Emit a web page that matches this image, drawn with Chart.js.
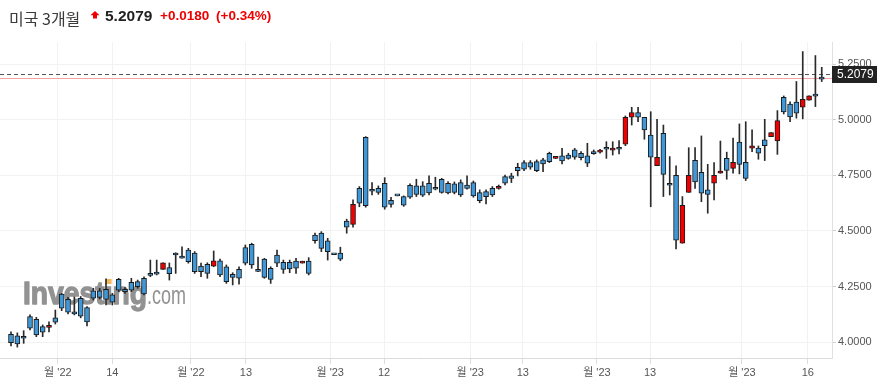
<!DOCTYPE html>
<html><head><meta charset="utf-8">
<script src="https://cdn.jsdelivr.net/npm/chart.js@4"></script>
<style>
html,body{margin:0;padding:0;background:#fff;}
#wrap{position:relative;width:883px;height:389px;overflow:hidden;background:#fff;}
canvas{position:absolute;left:0;top:0;}
.h{position:absolute;white-space:nowrap;line-height:1;}
</style></head><body>
<div id="wrap">
<canvas id="c" width="883" height="389"></canvas>
<span class="h" id="name" style="left:9px;top:5.5px;font:16px 'Noto Sans CJK KR';color:#3a3a3a"></span>
<svg style="position:absolute;left:90px;top:11px" width="10" height="8" viewBox="0 0 10 8"><polygon points="5,0 9.5,4.2 0.5,4.2" fill="#e00"/><rect x="3" y="4" width="4" height="3.5" fill="#e00"/></svg>
<span class="h" id="price" style="left:105px;top:7px;font:bold 15.5px 'Liberation Sans';color:#222"></span>
<span class="h" id="chg" style="left:160px;top:8px;font:bold 13.5px 'Liberation Sans';color:#e00"></span>
<span class="h" id="pct" style="left:216px;top:8px;font:bold 13.5px 'Liberation Sans';color:#e00"></span>
</div>
<script>
const instrument = '미국 3개월';
const lastPrice = 5.2079;
const change = 0.0180;
const changePct = 0.34;
const prevClose = 5.1899;

const opens  = [3.997,3.991,4.017,4.062,4.032,4.044,4.075,4.089,4.152,4.134,4.126,4.116,4.091,4.197,4.201,4.192,4.179,4.234,4.227,4.234,4.249,4.216,4.300,4.305,4.357,4.308,4.392,4.377,4.362,4.317,4.317,4.309,4.366,4.302,4.272,4.291,4.287,4.355,4.347,4.318,4.291,4.282,4.355,4.327,4.329,4.332,4.364,4.309,4.456,4.422,4.407,4.393,4.373,4.517,4.620,4.625,4.614,4.679,4.674,4.607,4.620,4.658,4.616,4.652,4.665,4.661,4.671,4.688,4.674,4.671,4.674,4.662,4.692,4.658,4.636,4.655,4.662,4.700,4.715,4.737,4.772,4.778,4.787,4.772,4.802,4.812,4.835,4.815,4.827,4.832,4.830,4.805,4.848,4.862,4.868,4.873,4.868,5.012,5.033,5.012,4.955,4.832,4.832,4.755,4.706,4.459,4.616,4.751,4.721,4.670,4.665,4.751,4.770,4.773,4.809,4.800,4.737,4.883,4.850,4.884,4.943,4.997,5.036,5.014,5.030,5.093,5.109,5.107,5.184];
const highs  = [4.046,4.041,4.051,4.122,4.111,4.077,4.091,4.144,4.219,4.201,4.203,4.205,4.159,4.242,4.242,4.284,4.219,4.287,4.245,4.287,4.279,4.294,4.369,4.369,4.357,4.356,4.402,4.429,4.422,4.407,4.355,4.357,4.410,4.373,4.347,4.312,4.339,4.437,4.445,4.383,4.377,4.339,4.414,4.369,4.369,4.377,4.364,4.380,4.490,4.497,4.467,4.393,4.427,4.553,4.640,4.700,4.925,4.718,4.703,4.740,4.652,4.658,4.658,4.712,4.733,4.722,4.748,4.742,4.737,4.722,4.721,4.730,4.748,4.725,4.685,4.685,4.700,4.707,4.752,4.760,4.805,4.817,4.817,4.820,4.827,4.855,4.836,4.872,4.850,4.872,4.857,4.895,4.865,4.868,4.902,4.902,4.907,5.018,5.057,5.057,5.012,5.037,5.003,4.977,4.835,4.793,4.655,4.875,4.875,4.928,4.800,4.808,4.905,4.855,4.918,4.982,4.992,4.955,4.883,5.003,4.943,5.042,5.108,5.082,5.173,5.308,5.109,5.290,5.237];
const lows   = [3.982,3.977,3.994,4.054,4.024,4.024,4.046,4.081,4.141,4.126,4.122,4.109,4.073,4.189,4.194,4.167,4.167,4.227,4.219,4.227,4.242,4.212,4.294,4.302,4.327,4.279,4.309,4.377,4.355,4.309,4.294,4.287,4.339,4.294,4.264,4.257,4.261,4.347,4.332,4.317,4.287,4.264,4.339,4.309,4.312,4.309,4.355,4.302,4.445,4.407,4.369,4.393,4.366,4.490,4.517,4.609,4.607,4.662,4.665,4.598,4.607,4.658,4.611,4.647,4.655,4.655,4.662,4.685,4.670,4.667,4.667,4.655,4.688,4.652,4.627,4.622,4.655,4.688,4.707,4.718,4.748,4.772,4.778,4.767,4.767,4.808,4.826,4.802,4.823,4.823,4.820,4.790,4.845,4.850,4.827,4.842,4.847,4.884,4.977,4.992,4.913,4.609,4.794,4.655,4.662,4.419,4.445,4.674,4.692,4.632,4.580,4.640,4.760,4.733,4.760,4.757,4.727,4.857,4.823,4.817,4.925,4.845,5.027,4.992,5.008,5.005,5.089,5.060,5.173];
const closes = [4.035,4.028,4.026,4.114,4.102,4.069,4.066,4.109,4.216,4.192,4.136,4.197,4.155,4.231,4.231,4.237,4.212,4.282,4.237,4.269,4.272,4.287,4.309,4.315,4.327,4.335,4.400,4.387,4.414,4.400,4.342,4.350,4.342,4.366,4.339,4.305,4.327,4.425,4.440,4.327,4.373,4.332,4.392,4.359,4.359,4.364,4.355,4.364,4.482,4.490,4.456,4.393,4.400,4.545,4.530,4.692,4.922,4.688,4.692,4.715,4.638,4.658,4.655,4.706,4.703,4.703,4.715,4.697,4.733,4.715,4.712,4.718,4.707,4.718,4.673,4.677,4.692,4.692,4.745,4.748,4.787,4.808,4.808,4.812,4.820,4.850,4.827,4.838,4.842,4.865,4.850,4.838,4.857,4.855,4.877,4.864,4.868,4.891,5.012,5.033,5.012,4.932,4.794,4.940,4.715,4.751,4.445,4.674,4.818,4.764,4.685,4.715,4.760,4.827,4.782,4.900,4.809,4.873,4.873,4.910,4.925,4.905,5.102,5.071,5.080,5.057,5.089,5.117,5.191];

const tickLabels = ["월 '22","14","월 '22","13","월 '23","12","월 '23","13","월 '23","13","월 '23","16"];
const tickAt     = [7.4, 16.0, 28.4, 37.1, 50.4, 58.9, 72.5, 80.8, 92.5, 100.9, 115.4, 125.8];
const yTicks     = [4.0, 4.25, 4.5, 4.75, 5.0, 5.25];

document.getElementById('name').textContent = instrument;
document.getElementById('price').textContent = lastPrice.toFixed(4);
document.getElementById('chg').textContent = '+' + change.toFixed(4);
document.getElementById('pct').textContent = '(+' + changePct.toFixed(2) + '%)';

const BLUE = '#3f97d8', RED = '#f00000';
const idx = opens.map((_, i) => i);

const overlay = {
  id: 'overlay',
  beforeDatasetsDraw(chart) {
    const ctx = chart.ctx, a = chart.chartArea, ys = chart.scales.y;
    ctx.save();
    // watermark
    const wm = '#929292';
    ctx.fillStyle = wm; ctx.strokeStyle = wm; ctx.lineWidth = 1.3; ctx.lineJoin = 'round';
    ctx.textBaseline = 'alphabetic';
    ctx.font = 'bold 32px "Liberation Sans"';
    const w1 = ctx.measureText('Investıng').width;
    const sx = 124 / w1;
    const xi = ctx.measureText('Invest').width * sx;
    const wi = ctx.measureText('ı').width * sx;
    ctx.save(); ctx.translate(23, 304); ctx.scale(sx, 1); ctx.fillText('Investıng', 0, 0); ctx.strokeText('Investıng', 0, 0); ctx.restore();
    ctx.fillStyle = 'rgba(245,175,70,0.9)';
    ctx.fillRect(23 + xi + wi / 2 - 3, 279, 6, 5);
    ctx.fillStyle = wm;
    ctx.font = '25px "Liberation Sans"';
    const w2 = ctx.measureText('.com').width;
    ctx.save(); ctx.translate(147, 304); ctx.scale(39 / w2, 1); ctx.fillText('.com', 0, 0); ctx.restore();
    // previous close line
    const yp = Math.round(ys.getPixelForValue(prevClose)) + 0.5;
    ctx.strokeStyle = '#f5a3a3'; ctx.lineWidth = 1;
    ctx.beginPath(); ctx.moveTo(a.left, yp); ctx.lineTo(a.right, yp); ctx.stroke();
    // last price dashed line
    const yl = Math.round(ys.getPixelForValue(lastPrice)) + 0.5;
    ctx.strokeStyle = '#555'; ctx.setLineDash([4, 3]);
    ctx.beginPath(); ctx.moveTo(a.left, yl); ctx.lineTo(a.right, yl); ctx.stroke();
    ctx.restore();
  },
  afterDraw(chart) {
    const ctx = chart.ctx, a = chart.chartArea, ys = chart.scales.y;
    const yl = Math.round(ys.getPixelForValue(lastPrice));
    ctx.save();
    ctx.fillStyle = '#222';
    ctx.fillRect(a.right, yl - 8, 45, 17);
    ctx.fillStyle = '#fff';
    ctx.font = '12px "Liberation Sans"';
    ctx.textBaseline = 'middle';
    ctx.fillText(lastPrice.toFixed(4), a.right + 5, yl + 0.5);
    ctx.restore();
  }
};

new Chart(document.getElementById('c'), {
  type: 'bar',
  data: {
    datasets: [
      {
        label: 'body',
        data: idx.map(i => ({ x: i, y: [opens[i], closes[i]] })),
        backgroundColor: c => closes[c.dataIndex] >= opens[c.dataIndex] ? BLUE : RED,
        borderColor: '#1a1a1a', borderWidth: 1, borderSkipped: false,
        barThickness: 5, minBarLength: 2, grouped: false, order: 0
      },
      {
        label: 'wick',
        data: idx.map(i => ({ x: i, y: [lows[i], highs[i]] })),
        backgroundColor: '#2a2a2a', borderWidth: 0,
        barThickness: 1, grouped: false, order: 1
      }
    ]
  },
  options: {
    responsive: false, animation: false, devicePixelRatio: 1, events: [],
    layout: { padding: { top: 42, left: 0, right: 0, bottom: 0 } },
    plugins: { legend: { display: false }, tooltip: { enabled: false } },
    scales: {
      x: {
        type: 'linear', min: -1.737, max: 129.62, offset: false,
        afterBuildTicks: s => { s.ticks = tickAt.map(v => ({ value: v })); },
        afterFit: s => { s.height = 31; },
        ticks: { autoSkip: false, maxRotation: 0, minRotation: 0, padding: 2,
          font: { size: 11, family: '"Liberation Sans","Noto Sans CJK KR",sans-serif' }, color: '#555',
          callback: (v, i) => tickLabels[i] },
        grid: { offset: false, color: '#f2f2f2', tickColor: '#dcdcdc', tickLength: 6 },
        border: { color: '#dcdcdc' }
      },
      y: {
        position: 'right', min: 3.928, max: 5.351,
        afterBuildTicks: s => { s.ticks = yTicks.map(v => ({ value: v })); },
        afterFit: s => { s.width = 51; },
        ticks: { padding: 2, font: { size: 11, family: '"Liberation Sans"' }, color: '#555',
          callback: v => Number(v).toFixed(4) },
        grid: { color: '#f2f2f2', tickColor: '#d0d0d0', tickLength: 4 },
        border: { color: '#e0e0e0' }
      }
    }
  },
  plugins: [overlay]
});
</script>
</body></html>
